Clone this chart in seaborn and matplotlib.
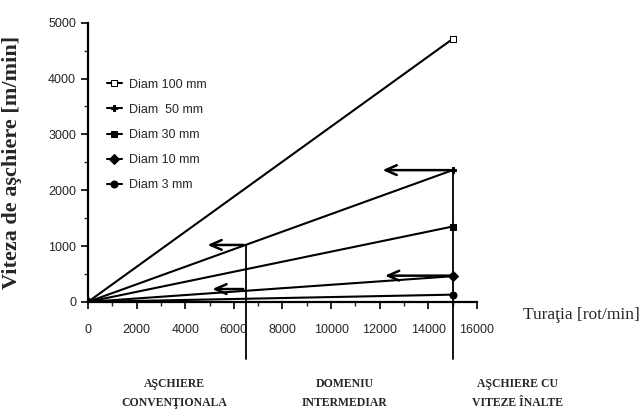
import numpy as np
import pandas as pd
import matplotlib.pyplot as plt
import seaborn as sns

# viteza de aschiere la turatia maxima (15000 rot/min)
turatii = [0, 15000]
diametre = ['Diam 100 mm', 'Diam  50 mm', 'Diam 30 mm', 'Diam 10 mm', 'Diam 3 mm']
viteze_max = [4710, 2360, 1350, 460, 130]
markere = ['s', 'P', 's', 'D', 'o']

# limitele domeniilor si sagetile
limite = [6500, 15000]
limite_sus = [1020, 2360]
sageti = [(6500, 1020, 4800), (6500, 230, 5000), (15000, 2360, 12000), (15000, 470, 12100)]
domenii = ['AŞCHIERE\nCONVENŢIONALA', 'DOMENIU\nINTERMEDIAR', 'AŞCHIERE CU\nVITEZE ÎNALTE']

rows = []
for d, v in zip(diametre, viteze_max):
    rows.append({'n': turatii[0], 'v': 0, 'diam': d})
    rows.append({'n': turatii[1], 'v': v, 'diam': d})
df = pd.DataFrame(rows)

sns.set_style('ticks')
plt.rcParams['font.family'] = ['Liberation Sans', 'DejaVu Sans']

fig = plt.figure(figsize=(6.42, 4.13), dpi=100)
ax = fig.add_axes([0.137, 0.269, 0.606, 0.676])

sns.lineplot(data=df, x='n', y='v', hue='diam', style='diam',
             palette={d: 'black' for d in diametre},
             markers=dict(zip(diametre, markere)), dashes=False,
             markersize=5, markeredgecolor='black', linewidth=1.5, ax=ax)
# patratul gol pentru 100 mm
ax.lines[0].set_markerfacecolor('white')

ax.set_xlim(0, 16000)
ax.set_ylim(0, 5000)
ax.set_xticks(range(0, 16001, 2000))
ax.set_xticklabels(['0', '2000', '4000', '6000', '8000', '10000', '12000', '14000', '16000'])
ax.set_yticks(range(0, 5001, 1000))
ax.set_xticks(range(0, 16001, 1000), minor=True)
ax.set_yticks(range(0, 5001, 500), minor=True)
ax.tick_params(axis='both', which='major', length=5, width=1.2, labelsize=9, color='black')
ax.tick_params(axis='x', which='major', pad=11)
ax.tick_params(axis='both', which='minor', length=3, width=1)
for s in ['top', 'right']:
    ax.spines[s].set_visible(False)
for s in ['left', 'bottom']:
    ax.spines[s].set_linewidth(1.6)
    ax.spines[s].set_color('black')

ax.set_xlabel('')
ax.set_ylabel('Viteza de aşchiere [m/min]', family='Liberation Serif',
              fontweight='bold', fontsize=16)
ax.yaxis.set_label_coords(-0.17, 0.5)
fig.text(0.814, 0.237, 'Turaţia [rot/min]', family='Liberation Serif', fontsize=12.5,
         va='center')

for x, top in zip(limite, limite_sus):
    ax.plot([x, x], [-1020, top], color='black', lw=1.3, clip_on=False)
for x0, y0, x1 in sageti:
    ax.annotate('', xy=(x1, y0), xytext=(x0, y0),
                arrowprops=dict(arrowstyle='->, head_length=0.8, head_width=0.35',
                                color='black', lw=1.8))

for xf, txt in zip([0.271, 0.537, 0.806], domenii):
    fig.text(xf, 0.048, txt, ha='center', va='center', family='Liberation Serif',
             fontweight='bold', fontsize=8.5, linespacing=1.75)

leg = ax.legend(loc='upper left', bbox_to_anchor=(0.02, 0.84), frameon=False,
                fontsize=9, handlelength=1.2, labelspacing=1.05, handletextpad=0.6)
for i, h in enumerate(leg.legend_handles):
    h.set_markeredgecolor('black')
    h.set_markerfacecolor('white' if i == 0 else 'black')

fig.savefig('out.png', dpi=100)
